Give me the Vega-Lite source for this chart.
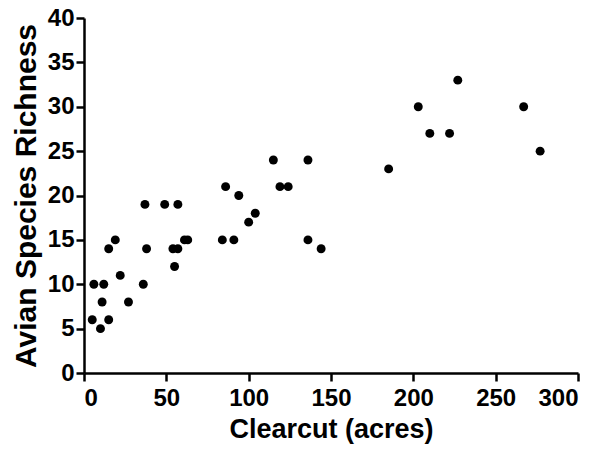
{
  "$schema": "https://vega.github.io/schema/vega-lite/v6.json",
  "autosize": "none",
  "width": 494,
  "height": 355,
  "padding": {"left": 84, "top": 18, "right": 25, "bottom": 83},
  "background": "white",
  "config": {"view": {"stroke": null}, "font": "Liberation Sans"},
  "data": {"values": [
    {"acres": 5, "richness": 6}, {"acres": 15, "richness": 6}, {"acres": 10, "richness": 5},
    {"acres": 11, "richness": 8}, {"acres": 27, "richness": 8},
    {"acres": 6, "richness": 10}, {"acres": 12, "richness": 10}, {"acres": 36, "richness": 10},
    {"acres": 22, "richness": 11}, {"acres": 55, "richness": 12},
    {"acres": 15, "richness": 14}, {"acres": 38, "richness": 14}, {"acres": 54, "richness": 14}, {"acres": 57, "richness": 14}, {"acres": 144, "richness": 14},
    {"acres": 19, "richness": 15}, {"acres": 61, "richness": 15}, {"acres": 63, "richness": 15}, {"acres": 84, "richness": 15}, {"acres": 91, "richness": 15}, {"acres": 136, "richness": 15},
    {"acres": 100, "richness": 17}, {"acres": 104, "richness": 18},
    {"acres": 37, "richness": 19}, {"acres": 49, "richness": 19}, {"acres": 57, "richness": 19},
    {"acres": 94, "richness": 20},
    {"acres": 86, "richness": 21}, {"acres": 119, "richness": 21}, {"acres": 124, "richness": 21},
    {"acres": 185, "richness": 23},
    {"acres": 115, "richness": 24}, {"acres": 136, "richness": 24},
    {"acres": 277, "richness": 25},
    {"acres": 210, "richness": 27}, {"acres": 222, "richness": 27},
    {"acres": 203, "richness": 30}, {"acres": 267, "richness": 30},
    {"acres": 227, "richness": 33}
  ]},
  "mark": {"type": "circle", "size": 80, "color": "black", "opacity": 1},
  "encoding": {
    "x": {
      "field": "acres", "type": "quantitative",
      "scale": {"domain": [0, 300], "nice": false},
      "axis": {
        "title": "Clearcut (acres)", "values": [0, 50, 100, 150, 200, 250, 300],
        "grid": false, "domainColor": "black", "domainWidth": 2.5, "tickColor": "black", "tickWidth": 2.5, "tickSize": 8,
        "labelFont": "Liberation Sans", "labelFontSize": 24, "labelFontWeight": "bold", "labelColor": "black", "labelPadding": 5,
        "titleFont": "Liberation Sans", "titleFontSize": 27, "titleFontWeight": "bold", "titleColor": "black", "titlePadding": 6
      }
    },
    "y": {
      "field": "richness", "type": "quantitative",
      "scale": {"domain": [0, 40], "nice": false},
      "axis": {
        "title": "Avian Species Richness", "values": [0, 5, 10, 15, 20, 25, 30, 35, 40],
        "grid": false, "domainColor": "black", "domainWidth": 2.5, "tickColor": "black", "tickWidth": 2.5, "tickSize": 8,
        "labelFont": "Liberation Sans", "labelFontSize": 24, "labelFontWeight": "bold", "labelColor": "black", "labelPadding": 2,
        "titleFont": "Liberation Sans", "titleFontSize": 30, "titleFontWeight": "bold", "titleColor": "black", "titlePadding": 6
      }
    }
  }
}
